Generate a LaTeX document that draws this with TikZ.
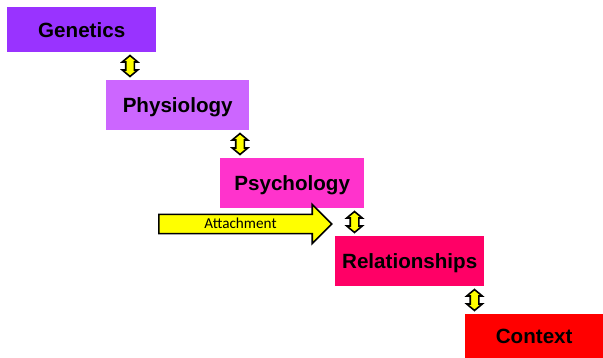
\documentclass[tikz,border=0pt]{standalone}
\usepackage{fontspec}
\setmainfont{Liberation Sans}
\newfontfamily\notefont{Carlito}
\usetikzlibrary{shapes.arrows}
\definecolor{genviolet}{HTML}{9933FF}
\definecolor{physviolet}{HTML}{CC66FF}
\definecolor{psychpink}{HTML}{FF33CC}
\definecolor{relpink}{HTML}{FF0066}
\definecolor{ctxred}{HTML}{FF0000}
\definecolor{arrowyellow}{HTML}{FFFF00}

\begin{document}
\begin{tikzpicture}[x=1pt,y=-1pt,
    level/.style={anchor=north west, inner sep=0pt, text height=14.75pt, text depth=0pt,
        font=\fontsize{20.6}{24}\selectfont\bfseries},
    updown/.style={double arrow, shape border rotate=90, draw=black, line width=1.6pt,
        fill=arrowyellow, minimum height=21pt, inner sep=3.5pt,
        double arrow head extend=3.5pt, double arrow tip angle=100},
    push/.style={single arrow, draw=black, line width=1.6pt, fill=arrowyellow,
        minimum height=173pt, inner xsep=2pt, inner ysep=3.9pt,
        text height=9.8pt, text depth=0pt, single arrow head extend=10pt,
        single arrow tip angle=90, anchor=west,
        font=\notefont\fontsize{15.2}{17}\selectfont}]
   \useasboundingbox (0,0) rectangle (603,358);
   % the five levels
   \node[level, fill=genviolet, minimum width=149pt, minimum height=45pt] (gen) at (7,7) {Genetics};
   \node[level, fill=physviolet, minimum width=143pt, minimum height=50pt] (phys) at (106,80) {Physiology};
   \node[level, fill=psychpink, minimum width=144pt, minimum height=50pt] (psych) at (220,158) {Psychology};
   \node[level, fill=relpink, minimum width=149pt, minimum height=50pt] (rel) at (335,236) {Relationships};
   \node[level, fill=ctxred, minimum width=138pt, minimum height=44pt] (ctx) at (465,314) {Context};
   % links between levels
   \node[updown] (genphys) at (130,66) {};
   \node[updown] (physpsych) at (240,144) {};
   \node[updown] (psychrel) at (354.5,222) {};
   \node[updown] (relctx) at (474.5,300) {};
   % attachment
   \node[push] (attach) at (158,224) {Attachment};
\end{tikzpicture}
\end{document}
